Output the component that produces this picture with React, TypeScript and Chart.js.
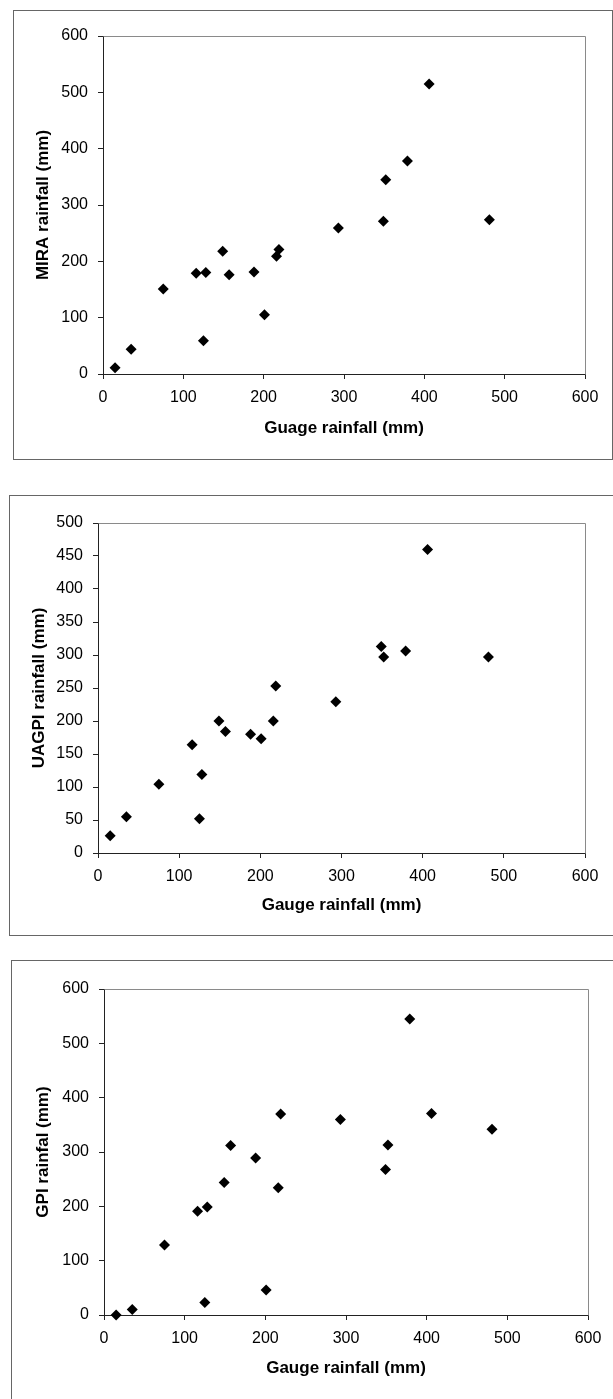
import React, { useEffect, useRef } from "react";
import { Chart, registerables } from "chart.js";

Chart.register(...registerables);

// ---- Data ----
const gaugeRainfall = [15, 35, 75, 116, 125, 128, 149, 157, 188, 201, 216, 219, 293, 349, 352, 379, 406, 481];
const miraRainfall = [11, 44, 151, 179, 59, 180, 218, 176, 181, 105, 209, 221, 259, 271, 345, 378, 515, 274];
const uagpiRainfall = [26, 55, 104, 164, 52, 119, 200, 184, 180, 173, 200, 253, 229, 313, 297, 306, 460, 297];
const gpiRainfall = [0, 10, 129, 191, 23, 199, 244, 312, 289, 46, 234, 370, 360, 268, 313, 545, 371, 342];

const xAxisMax = 600;
const xAxisStep = 100;
const miraAxis = { max: 600, step: 100 };
const uagpiAxis = { max: 500, step: 50 };
const gpiAxis = { max: 600, step: 100 };

const FONT = "'Liberation Sans', Arial, Helvetica, sans-serif";
const TICK_SIZE = 16;
const TITLE_SIZE = 17;

type Rect = { left: number; top: number; right: number; bottom: number };

type PanelSpec = {
  frame: { left: number; top: number; width: number; height: number };
  canvas: Rect;
  plot: Rect;
  yTitleX: number;
  xTitleY: number;
  xTitle: string;
  yTitle: string;
  yValues: number[];
  yMax: number;
  yStep: number;
};

const plotBorder = {
  id: "plotBorder",
  beforeDatasetsDraw(chart: any) {
    const { ctx, chartArea } = chart;
    ctx.save();
    ctx.strokeStyle = "#8a8a8a";
    ctx.lineWidth = 1;
    ctx.beginPath();
    const l = Math.round(chartArea.left) + 0.5;
    const t = Math.round(chartArea.top) + 0.5;
    const r = Math.round(chartArea.right) + 0.5;
    const b = Math.round(chartArea.bottom) + 0.5;
    ctx.moveTo(l, t);
    ctx.lineTo(r, t);
    ctx.lineTo(r, b);
    ctx.stroke();
    ctx.restore();
  },
};

function Panel({ spec }: { spec: PanelSpec }) {
  const ref = useRef<HTMLCanvasElement | null>(null);
  const { canvas, plot } = spec;
  const cw = canvas.right - canvas.left;
  const ch = canvas.bottom - canvas.top;

  useEffect(() => {
    if (!ref.current) return;
    const yAxisWidth = plot.left - canvas.left;
    const xAxisHeight = canvas.bottom - plot.bottom;
    const halfLine = (TITLE_SIZE * 1.2) / 2;
    const yTitlePad = spec.yTitleX - canvas.left - halfLine;
    const xTitlePad = canvas.bottom - spec.xTitleY - halfLine;

    const chart = new Chart(ref.current, {
      type: "scatter",
      data: {
        datasets: [
          {
            data: gaugeRainfall.map((g, i) => ({ x: g, y: spec.yValues[i] })),
            pointStyle: "rectRot",
            pointRadius: 5.5,
            pointHoverRadius: 5.5,
            backgroundColor: "#000",
            borderColor: "#000",
            borderWidth: 0,
            clip: false,
          } as any,
        ],
      },
      options: {
        animation: false,
        responsive: false,
        maintainAspectRatio: false,
        devicePixelRatio: 1,
        layout: {
          padding: {
            top: plot.top - canvas.top,
            right: canvas.right - plot.right,
            left: 0,
            bottom: 0,
          },
        },
        plugins: {
          legend: { display: false },
          tooltip: { enabled: false },
        },
        scales: {
          x: {
            type: "linear",
            position: "bottom",
            min: 0,
            max: xAxisMax,
            ticks: {
              stepSize: xAxisStep,
              color: "#000",
              font: { family: FONT, size: TICK_SIZE },
              padding: 9,
              maxRotation: 0,
            },
            grid: {
              display: true,
              drawOnChartArea: false,
              drawTicks: true,
              tickLength: 5,
              color: "#222",
            },
            border: { display: true, color: "#222", width: 1 },
            title: {
              display: true,
              text: spec.xTitle,
              color: "#000",
              font: { family: FONT, size: TITLE_SIZE, weight: "bold" },
              padding: { top: 0, bottom: xTitlePad },
            },
            afterFit: (s: any) => {
              s.height = xAxisHeight;
            },
          },
          y: {
            type: "linear",
            position: "left",
            min: 0,
            max: spec.yMax,
            ticks: {
              stepSize: spec.yStep,
              color: "#000",
              font: { family: FONT, size: TICK_SIZE },
              padding: 10,
            },
            grid: {
              display: true,
              drawOnChartArea: false,
              drawTicks: true,
              tickLength: 5,
              color: "#222",
            },
            border: { display: true, color: "#222", width: 1 },
            title: {
              display: true,
              text: spec.yTitle,
              color: "#000",
              font: { family: FONT, size: TITLE_SIZE, weight: "bold" },
              padding: { top: yTitlePad, bottom: 0 },
            },
            afterFit: (s: any) => {
              s.width = yAxisWidth;
            },
          },
        },
      } as any,
      plugins: [plotBorder],
    });
    return () => chart.destroy();
  }, []);

  return (
    <>
      <div
        style={{
          position: "absolute",
          left: spec.frame.left,
          top: spec.frame.top,
          width: spec.frame.width,
          height: spec.frame.height,
          border: "1px solid #666",
          boxSizing: "border-box",
        }}
      />
      <canvas
        ref={ref}
        width={cw}
        height={ch}
        style={{
          position: "absolute",
          left: canvas.left,
          top: canvas.top,
          width: cw,
          height: ch,
        }}
      />
    </>
  );
}

const panels: PanelSpec[] = [
  {
    frame: { left: 13, top: 10, width: 600, height: 450 },
    canvas: { left: 14, top: 11, right: 611, bottom: 458 },
    plot: { left: 103, top: 36, right: 585, bottom: 374 },
    yTitleX: 43,
    xTitleY: 428,
    xTitle: "Guage rainfall (mm)",
    yTitle: "MIRA rainfall (mm)",
    yValues: miraRainfall,
    yMax: miraAxis.max,
    yStep: miraAxis.step,
  },
  {
    frame: { left: 9, top: 495, width: 620, height: 441 },
    canvas: { left: 10, top: 496, right: 613, bottom: 934 },
    plot: { left: 98, top: 523, right: 585, bottom: 853 },
    yTitleX: 39,
    xTitleY: 905,
    xTitle: "Gauge rainfall (mm)",
    yTitle: "UAGPI rainfall (mm)",
    yValues: uagpiRainfall,
    yMax: uagpiAxis.max,
    yStep: uagpiAxis.step,
  },
  {
    frame: { left: 11, top: 960, width: 620, height: 500 },
    canvas: { left: 12, top: 961, right: 613, bottom: 1399 },
    plot: { left: 104, top: 989, right: 588, bottom: 1315 },
    yTitleX: 43,
    xTitleY: 1368,
    xTitle: "Gauge rainfall (mm)",
    yTitle: "GPI rainfal (mm)",
    yValues: gpiRainfall,
    yMax: gpiAxis.max,
    yStep: gpiAxis.step,
  },
];

export default function App() {
  return (
    <div
      style={{
        position: "absolute",
        left: 0,
        top: 0,
        width: 613,
        height: 1399,
        overflow: "hidden",
        background: "#fff",
      }}
    >
      {panels.map((p, i) => (
        <Panel key={i} spec={p} />
      ))}
    </div>
  );
}
